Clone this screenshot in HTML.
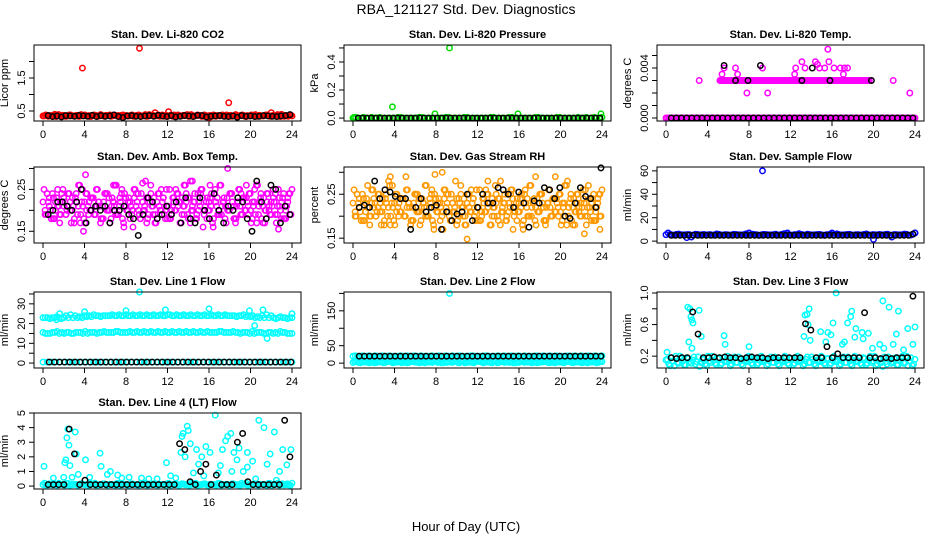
<!DOCTYPE html>
<html><head><meta charset="utf-8">
<style>
html,body{margin:0;padding:0;background:#fff;}
svg{display:block;font-family:"Liberation Sans",sans-serif;}
</style></head>
<body>
<svg id="chart" width="936" height="540" viewBox="0 0 936 540" xmlns="http://www.w3.org/2000/svg">
<text x="466" y="14" font-size="14" text-anchor="middle">RBA_121127  Std. Dev. Diagnostics</text>
<text x="466" y="531" font-size="13" text-anchor="middle">Hour of Day (UTC)</text>
</svg>
<script>
// ---------- data ----------
const hourTicks = [0,4,8,12,16,20,24];
const co2Red = [0.35,0.38,0.34,0.36,0.37,0.33,0.39,0.35,0.36,0.34,0.38,0.36,0.35,0.37,0.34,0.36,0.38,0.35,0.33,0.37,0.36,0.34,0.39,0.35,0.37,0.36,0.34,0.38,0.35,0.36,0.37,0.34,0.36,0.35,0.38,0.34,0.37,0.36,0.35,0.39,0.34,0.36,0.37,0.35,0.38,0.36,0.34,0.37,0.35,0.36,0.38,0.34,0.36,0.35,0.37,0.39,0.34,0.36,0.35,0.38,0.36,0.34,0.37,0.35,0.36,0.38,0.34,0.36,0.37,0.35,0.38,0.36,0.34,0.37,0.35,0.36,0.38,0.34,0.36,0.35,0.37,0.39,0.34,0.36,0.35,0.38,0.36,0.34,0.37,0.35,0.36,0.40,0.34,0.36,0.37,0.35];
const co2Black = [0.36,0.33,0.35,0.32,0.36,0.35,0.34,0.36,0.35,0.34,0.37,0.33,0.36,0.34,0.35,0.38,0.33,0.30,0.35,0.36,0.34,0.33,0.35,0.36,0.34,0.37,0.35,0.33,0.36,0.32,0.34,0.36,0.35,0.33,0.37,0.36,0.32,0.34,0.35,0.36,0.34,0.33,0.35,0.31,0.36,0.34,0.35,0.33,0.34,0.36,0.35,0.34,0.33,0.35,0.36,0.39];
const co2Out = [[3.8,1.8],[9.3,2.4],[17.9,0.75],[10.8,0.45],[12.1,0.48],[22,0.45],[16,0.3]];
const presGreen = [0,0,0.005,0,0,0.005,0,0,0,0.005,0,0,0,0.005,0,0,0,0,0.005,0,0,0.005,0,0,0,0,0.005,0,0,0,0.005,0,0,0,0,0.005,0,0,0,0.005,0,0,0,0,0.005,0,0,0.005];
const presBlack = [0,0,0,0,0,0,0,0,0,0,0,0,0,0,0,0,0,0,0,0,0,0,0,0,0,0,0,0,0,0,0,0,0,0,0,0,0,0,0,0,0,0,0,0,0,0,0,0,0,0,0,0,0,0,0,0];
const presOut = [[0.1,0.005],[3.8,0.08],[9.3,0.5],[7.9,0.03],[15.9,0.03],[23.9,0.03]];
const tempZeroMag = [0,0,0,0,0,0,0,0,0,0,0,0,0,0,0,0,0,0,0,0,0,0,0,0,0,0,0,0,0,0,0,0,0,0,0,0,0,0,0,0,0,0,0,0,0,0,0,0,0,0,0,0,0,0,0,0,0,0,0,0,0,0,0,0,0,0,0,0,0,0,0,0,0,0,0,0,0,0,0,0];
const tempBandMag = [0.003,0.003,0.003,0.003,0.003,0.003,0.003,0.003,0.003,0.003,0.003,0.003,0.003,0.003,0.003,0.003,0.003,0.003,0.003,0.003,0.003,0.003,0.003,0.003,0.003,0.003,0.003,0.003,0.003,0.003,0.003,0.003,0.003,0.003,0.003,0.003,0.003,0.003,0.003,0.003,0.003,0.003,0.003,0.003,0.003,0.003,0.003,0.003,0.003,0.003,0.003,0.003,0.003,0.003,0.003,0.003,0.003,0.003,0.003,0.003];
const tempMagOut = [[3.2,0.003],[5.4,0.0035],[5.6,0.004],[6.7,0.004],[6.9,0.0035],[7.8,0.002],[9.8,0.002],[9.3,0.004],[12.4,0.0035],[12.5,0.004],[13.1,0.0045],[13.4,0.004],[14.4,0.0045],[14.6,0.0043],[14.8,0.004],[15.6,0.0055],[15.7,0.0045],[16.2,0.004],[16.8,0.004],[17.2,0.004],[17.5,0.004],[17.1,0.0035],[21.9,0.003],[23.5,0.002],[16,0.003],[15.3,0.004]];
const tempBlackZero = [0,0,0,0,0,0,0,0,0,0,0,0,0,0,0,0,0,0,0,0,0,0,0,0,0,0,0,0,0,0,0,0,0,0,0,0,0,0,0,0,0,0,0,0,0,0,0,0];
const tempBlackOut = [[5.6,0.0042],[6.7,0.003],[7.9,0.003],[9.1,0.0042],[13.1,0.003],[14.1,0.004],[15.8,0.003],[19.8,0.003]];
const ambMag = [0.22,0.19,0.24,0.21,0.18,0.23,0.20,0.25,0.17,0.22,0.21,0.19,0.24,0.20,0.23,0.18,0.22,0.26,0.19,0.21,0.17,0.24,0.22,0.20,0.23,0.19,0.25,0.21,0.18,0.22,0.24,0.20,0.17,0.23,0.21,0.26,0.19,0.22,0.18,0.24,0.20,0.23,0.21,0.16,0.25,0.22,0.19,0.24,0.20,0.27,0.18,0.22,0.21,0.23,0.17,0.24,0.20,0.22,0.19,0.25,0.21,0.18,0.23,0.20,0.24,0.22,0.17,0.21,0.26,0.19,0.23,0.20,0.22,0.18,0.24,0.21,0.25,0.19,0.22,0.20,0.23,0.17,0.24,0.21,0.19,0.26,0.22,0.18,0.23,0.20,0.24,0.21,0.17,0.22,0.25,0.19,0.23,0.20,0.21,0.24,0.18,0.22,0.26,0.19,0.23,0.21,0.17,0.24,0.20,0.22,0.25,0.19,0.21,0.23,0.18,0.24,0.20,0.22,0.19,0.25];
const ambMag2 = [0.20,0.23,0.18,0.21,0.24,0.19,0.22,0.17,0.21,0.25,0.20,0.23,0.19,0.22,0.18,0.24,0.21,0.19,0.23,0.16,0.22,0.20,0.24,0.18,0.21,0.23,0.19,0.22,0.25,0.20,0.18,0.23,0.21,0.19,0.24,0.17,0.22,0.20,0.23,0.18,0.21,0.25,0.19,0.22,0.20,0.24,0.18,0.21,0.23,0.19,0.22,0.17,0.24,0.20,0.21,0.23,0.19,0.22,0.18,0.24];
const ambOut = [[4.1,0.285],[17.8,0.30],[9.6,0.265],[6.8,0.26],[13.6,0.26],[14.4,0.27],[16.1,0.26],[19.6,0.26],[19.1,0.24],[3.9,0.15],[22.7,0.155]];
const ambBlack = [0.19,0.20,0.22,0.22,0.21,0.20,0.22,0.25,0.17,0.20,0.21,0.20,0.21,0.17,0.20,0.20,0.21,0.19,0.18,0.14,0.19,0.23,0.22,0.18,0.19,0.21,0.19,0.22,0.17,0.23,0.18,0.17,0.23,0.20,0.18,0.24,0.20,0.17,0.21,0.20,0.23,0.22,0.18,0.15,0.27,0.22,0.18,0.26,0.25,0.17,0.21,0.19];
const rhOr = [0.23,0.20,0.25,0.22,0.19,0.24,0.21,0.27,0.18,0.23,0.22,0.20,0.25,0.21,0.24,0.19,0.23,0.28,0.20,0.22,0.18,0.25,0.23,0.21,0.24,0.20,0.26,0.22,0.19,0.23,0.25,0.21,0.18,0.24,0.22,0.27,0.20,0.23,0.19,0.25,0.21,0.24,0.22,0.17,0.26,0.23,0.20,0.25,0.21,0.28,0.19,0.23,0.22,0.24,0.18,0.25,0.21,0.23,0.20,0.26,0.22,0.19,0.24,0.21,0.25,0.23,0.18,0.22,0.27,0.20,0.24,0.21,0.23,0.19,0.25,0.22,0.26,0.20,0.23,0.21,0.24,0.18,0.25,0.22,0.20,0.27,0.23,0.19,0.24,0.21,0.25,0.22,0.18,0.23,0.26,0.20,0.24,0.21,0.22,0.25,0.19,0.23,0.27,0.20,0.24,0.22,0.18,0.25,0.21,0.23,0.26,0.20,0.22,0.24,0.19,0.25,0.21,0.23,0.20,0.26];
const rhOr2 = [0.21,0.24,0.19,0.22,0.26,0.20,0.23,0.18,0.22,0.27,0.21,0.24,0.20,0.23,0.19,0.25,0.22,0.20,0.24,0.17,0.23,0.21,0.25,0.19,0.22,0.24,0.20,0.23,0.26,0.21,0.19,0.24,0.22,0.20,0.25,0.18,0.23,0.21,0.24,0.19,0.22,0.26,0.20,0.23,0.21,0.25,0.19,0.22,0.24,0.20,0.23,0.18,0.25,0.21,0.22,0.24,0.20,0.23,0.19,0.25];
const rhOut = [[7.9,0.295],[8.6,0.3],[11,0.148],[5.1,0.29],[3.6,0.29],[17.6,0.29],[22.3,0.16],[19.5,0.29],[13,0.28],[23.8,0.17]];
const rhBlack = [0.22,0.225,0.22,0.28,0.24,0.26,0.255,0.245,0.24,0.24,0.17,0.22,0.24,0.21,0.22,0.225,0.17,0.21,0.19,0.205,0.21,0.25,0.19,0.22,0.25,0.23,0.23,0.265,0.26,0.25,0.22,0.255,0.23,0.175,0.235,0.23,0.265,0.26,0.24,0.265,0.2,0.195,0.23,0.265,0.245,0.24,0.22,0.31];
const sfBlue = [5.5,5.8,5.2,6.0,5.4,5.6,3.5,5.9,5.3,5.7,5.5,5.1,6.1,5.4,5.6,5.2,5.8,5.5,5.3,6.2,5.4,5.6,5.0,5.7,5.5,5.3,5.9,5.4,6.3,5.6,5.2,5.5,5.8,5.1,5.6,5.4,5.7,5.3,5.5,5.9,5.2,5.6,5.4,5.7,5.3,5.5,5.1,5.8,5.4,5.6,5.2,5.5,5.7,5.3,5.6,5.4,5.5,5.8,5.2,7.0];
const sfBlack = [5,5,5,5,5,5,5,5,5,5,5,5,5,5,5,5,5,5,5,5,5,5,5,5,5,5,5,5,5,5,5,5,5,5,5,5,5,5,5,5,5,5,5,5,5,5,5,5,5,5,5,5,5,5,5,6];
const sfOut = [[9.3,60],[20,1.5],[2,3],[8,7],[11.7,7],[16,7],[24,7]];
const l1High = [23,23,23,23.5,22.5,24,24.5,24,23.5,24,24,24.5,24,24,24,24.5,24,24,24.5,24,24,24.5,24,24,24.5,24,24,24.5,24,24.5,24,24,24.5,24,24,24.5,24,24,24.5,24,24,24,23.5,24,23.5,23.5,23,23,23,23,23,23,23,22.5,23];
const l1Mid = [15.5,15,15.5,16,15.5,15.5,15,15.5,15.5,16,15.5,15.5,15.5,16,15.5,15.5,16,15.5,15.5,15.5,16,15.5,15.5,16,15.5,15.5,16,15.5,15.5,16,15.5,15.5,16,15.5,15.5,16,15.5,15.5,16,15.5,15.5,15.5,15,15.5,15,15,15.5,15,15.5,15,15,15.5,15,15];
const l1Low = [0.5,0.5,0.5,0.5,0.5,0.5,0.5,0.5,0.5,0.5,0.5,0.5,0.5,0.5,0.5,0.5,0.5,0.5,0.5,0.5,0.5,0.5,0.5,0.5,0.5,0.5,0.5,0.5,0.5,0.5,0.5,0.5,0.5,0.5,0.5,0.5,0.5,0.5,0.5,0.5,0.5,0.5,0.5,0.5,0.5,0.5,0.5,0.5,0.5,0.5,0.5,0.5,0.5,0.5,0.5,0.5,0.5,0.5,0.5,0.5];
const l1Out = [[9.3,36],[4,26],[8,26.5],[11.8,27],[16,27.5],[19.9,26.5],[21.2,27],[20.4,19],[21.6,12.5],[24,25],[1.6,25],[1.3,22]];
const l1Black = [0.5,0.5,0.5,0.5,0.5,0.5,0.5,0.5,0.5,0.5,0.5,0.5,0.5,0.5,0.5,0.5,0.5,0.5,0.5,0.5,0.5,0.5,0.5,0.5,0.5,0.5,0.5,0.5,0.5,0.5,0.5,0.5,0.5,0.5,0.5,0.5,0.5,0.5,0.5,0.5,0.5,0.5,0.5,0.5,0.5,0.5,0.5,0.5];
const l2Mid = [20,20,21,20,20,21,20,20,21,20,20,20,21,20,20,21,20,20,20,21,20,20,21,20,20,20,21,20,20,21,20,20,21,20,20,21,20,20,21,20,20,20,21,20,20,21,20,20,20,21,20,20,21,20,20,21];
const l2Low = [2,4,1,3,5,2,1,4,3,2,5,1,3,4,2,1,5,3,2,4,1,3,2,5,4,1,2,3,5,2,4,1,3,2,4,5,1,3,2,4,1,5,2,3,4,1,2,5,3,4,2,1,3,5,2,4,1,3,2,4,5,1,3,2,4,1,3,5,2,4];
const l2Out = [[9.3,200]];
const l2Black = [20,20,20,20,20,20,20,20,20,20,20,20,20,20,20,20,20,20,20,20,20,20,20,20,20,20,20,20,20,20,20,20,20,20,20,20,20,20,20,20,20,20,20,20,20,20,20,20];
const l3Low = [0.15,0.1,0.18,0.08,0.12,0.2,0.14,0.09,0.17,0.11,0.19,0.13,0.07,0.16,0.1,0.2,0.12,0.15,0.09,0.18,0.11,0.14,0.2,0.08,0.16,0.12,0.19,0.1,0.15,0.13,0.18,0.09,0.17,0.11,0.2,0.14,0.08,0.16,0.12,0.19,0.1,0.15,0.13,0.18,0.09,0.17,0.11,0.2,0.14,0.08,0.16,0.12,0.19,0.1,0.15,0.13,0.18,0.09,0.17,0.11,0.2,0.14,0.08,0.16,0.12,0.19,0.1,0.15,0.13,0.18,0.09,0.17,0.11,0.2,0.14,0.08,0.16,0.12,0.19,0.1,0.15,0.13,0.18,0.09,0.17,0.11,0.2,0.14,0.08,0.16];
const l3Out = [[0.1,0.25],[2.1,0.82],[2.3,0.8],[2.4,0.7],[2.5,0.66],[2.6,0.62],[2.2,0.38],[2.5,0.3],[3.2,0.78],[3.4,0.45],[5.6,0.46],[5.7,0.35],[8,0.32],[13.3,0.45],[13.4,0.72],[13.6,0.73],[13.8,0.8],[13.7,0.6],[13.9,0.4],[14.9,0.51],[15.6,0.5],[15.9,0.47],[15.4,0.38],[16.1,0.62],[16.4,1.0],[17.2,0.38],[17.5,0.62],[17.8,0.7],[17.9,0.77],[18.3,0.55],[18.9,0.5],[18.2,0.44],[19.0,0.42],[19.5,0.49],[20.6,0.35],[20.9,0.9],[21.5,0.82],[21.9,0.35],[22.2,0.48],[22.4,0.77],[23.3,0.55],[23.8,0.35],[24,0.57],[17,0.35],[19.9,0.3],[21,0.3],[22.9,0.28]];
const l3Black = [0.18,0.17,0.18,0.18,0.76,0.48,0.18,0.18,0.19,0.18,0.19,0.18,0.18,0.17,0.18,0.19,0.18,0.18,0.17,0.18,0.18,0.18,0.18,0.18,0.18,0.61,0.53,0.18,0.18,0.32,0.18,0.23,0.18,0.18,0.18,0.18,0.75,0.18,0.18,0.17,0.18,0.17,0.18,0.18,0.18,0.96];
const l4Low = [0.1,0.05,0.15,0.08,0.12,0.2,0.1,0.05,0.18,0.1,0.12,0.06,0.15,0.1,0.08,0.2,0.12,0.05,0.1,0.15,0.08,0.12,0.1,0.05,0.18,0.1,0.12,0.06,0.15,0.1,0.08,0.2,0.12,0.05,0.1,0.15,0.08,0.12,0.1,0.05,0.18,0.1,0.12,0.06,0.15,0.1,0.08,0.2,0.12,0.05,0.1,0.15,0.08,0.12,0.1,0.05,0.18,0.1,0.12,0.06,0.15,0.1,0.08,0.2,0.12,0.05,0.1,0.15,0.08,0.12,0.1,0.05,0.18,0.1,0.12,0.06,0.15,0.1,0.08,0.2];
const l4Out = [[0.1,1.35],[1,0.55],[2,0.6],[2.1,1.6],[2.2,1.8],[2.3,3.3],[2.4,3.9],[2.5,2.8],[2.6,1.4],[2.8,0.6],[3.1,3.7],[3.2,2.2],[3.4,0.8],[4.1,1.8],[4.5,0.6],[5.5,2.25],[5.6,1.35],[6.2,0.8],[6.5,1.0],[7.2,0.75],[7.6,0.55],[8.3,0.6],[9.5,0.55],[10.2,0.5],[11,0.5],[11.9,1.6],[12.3,0.7],[12.8,0.55],[13.3,2.3],[13.4,3.4],[13.5,3.6],[13.7,2.0],[13.9,4.1],[14.0,3.8],[14.2,2.9],[14.8,2.5],[15.0,1.5],[15.3,2.0],[15.7,2.7],[16.1,2.3],[16.6,4.85],[17.1,1.4],[17.3,2.5],[17.6,3.1],[17.8,3.4],[18.4,2.3],[18.1,3.6],[18.7,1.8],[18.9,2.6],[19.3,1.0],[19.7,2.3],[19.7,1.3],[20.2,1.7],[20.8,4.5],[21.3,4.0],[21.6,1.5],[21.9,2.2],[22.3,3.7],[22.8,1.0],[23.1,2.5],[23.5,1.45],[23.9,2.5],[15.5,0.7],[20.5,0.5],[22.5,0.4],[14.5,0.9],[16.9,0.9],[18.2,1.0]];
const l4Black = [0.1,0.1,0.1,0.1,3.9,2.2,0.1,0.4,0.1,0.1,0.1,0.1,0.1,0.1,0.1,0.1,0.1,0.1,0.1,0.1,0.1,0.1,0.1,0.1,0.1,2.9,2.5,0.3,0.1,1.0,1.5,0.1,0.75,0.1,0.1,0.1,3.0,3.6,0.3,0.1,0.1,0.1,0.1,0.1,0.1,4.5,2.0];

// ---------- layout ----------
const svg = document.getElementById('chart');
const NS = 'http://www.w3.org/2000/svg';
const colL = [34,344,657], rowT = [45,167,292,413], W = 267, H = 76;
function mk(tag, attrs, parent){ const e = document.createElementNS(NS, tag); for (const k in attrs) e.setAttribute(k, attrs[k]); (parent||svg).appendChild(e); return e; }

function panel(col,row,name,title,ylab,ymin,ymax,yticks,ylabels){
  const L = colL[col], T = rowT[row];
  const p = {L,T,ymin,ymax,name};
  p.x = h => L + 9 + h*(W-18)/24;
  p.y = v => T + H - (v-ymin)/(ymax-ymin)*H;
  const g = mk('g',{});
  
  
  p.g = g;
  const t = mk('text',{x:L+W/2,y:T-7,'font-size':11,'font-weight':'bold','text-anchor':'middle'},g);
  t.textContent = title;
  
  
  const yl = mk('text',{transform:`translate(${L-26},${T+H/2}) rotate(-90)`,'font-size':11,'text-anchor':'middle'},g);
  yl.textContent = ylab;
  
  
  hourTicks.forEach(h=>{
    const xx = p.x(h);
    mk('line',{x1:xx,x2:xx,y1:T+H,y2:T+H+5,stroke:'#000'},g);
    const tl = mk('text',{x:xx,y:T+H+17,'font-size':11,'text-anchor':'middle'},g);
    tl.textContent = String(h);
    
    
  });
  yticks.forEach((v,i)=>{
    const yy = p.y(v);
    mk('line',{x1:L-5,x2:L,y1:yy,y2:yy,stroke:'#000'},g);
    if (ylabels[i]) {
      const tl = mk('text',{transform:`translate(${L-9},${yy}) rotate(-90)`,'font-size':11,'text-anchor':'middle'},g);
      tl.textContent = ylabels[i];
      
      
    }
  });
  p.pts = mk('g',{},g);
  
  
  mk('rect',{x:L,y:T,width:W,height:H,fill:'none',stroke:'#000','stroke-width':1},g);
  return p;
}
function pt(p,h,v,color){
  const c = mk('circle',{cx:p.x(h),cy:p.y(v),r:2.7,fill:'none',stroke:color,'stroke-width':1.5},p.pts);
  
  
}
function series(p,vals,color,h0,h1){ const n=vals.length; vals.forEach((v,i)=>pt(p,h0+(h1-h0)*i/(n-1),v,color)); }
// dense clouds: draw series forward and a second pass reversed, offset half a step
function dense(p,vals,color,h0,h1){
  series(p,vals,color,h0,h1);
  const n=vals.length, st=(h1-h0)/(n-1);
  const rev = vals.slice().reverse();
  rev.forEach((v,i)=>{ const h=h0+st/2+st*i; if (h<=h1) pt(p,h,v,color); });
}
function pairs(p,arr,color){ arr.forEach(d=>pt(p,d[0],d[1],color)); }

const RED='#ff0000', GRN='#00dd00', MAG='#ff00ff', ORG='#ff9900', BLU='#0000ff', CYN='#00ffff', BLK='#000000';

let p = panel(0,0,'co2','Stan. Dev. Li-820 CO2','Licor ppm',0.197,2.5,[0.5,1,1.5,2],['0.5','','1.5','']);
dense(p,co2Red,RED,0,24); pairs(p,co2Out,RED); series(p,co2Black,BLK,0.5,23.8);

p = panel(1,0,'pressure','Stan. Dev. Li-820 Pressure','kPa',-0.021,0.521,[0,0.1,0.2,0.3,0.4,0.5],['0.0','','0.2','','0.4','']);
dense(p,presGreen,GRN,0,24); pairs(p,presOut,GRN); series(p,presBlack,BLK,0.5,23.8);

p = panel(2,0,'li820-temp','Stan. Dev. Li-820 Temp.','degrees C',-0.00024,0.00584,[0,0.001,0.002,0.003,0.004,0.005],['0.000','','','','0.004','']);
dense(p,tempZeroMag,MAG,0,24); dense(p,tempBandMag,MAG,5.2,19.6); pairs(p,tempMagOut,MAG);
series(p,tempBlackZero,BLK,0.5,23.8); pairs(p,tempBlackOut,BLK);

p = panel(0,1,'amb-box-temp','Stan. Dev. Amb. Box Temp.','degrees C',0.122,0.3035,[0.15,0.2,0.25,0.3],['0.15','','0.25','']);
dense(p,ambMag,MAG,0,24); dense(p,ambMag2,MAG,0.2,23.8); pairs(p,ambOut,MAG); series(p,ambBlack,BLK,0.5,23.8);

p = panel(1,1,'gas-stream-rh','Stan. Dev. Gas Stream RH','percent',0.139,0.312,[0.15,0.2,0.25,0.3],['0.15','','0.25','']);
dense(p,rhOr,ORG,0,24); dense(p,rhOr2,ORG,0.2,23.8); pairs(p,rhOut,ORG); series(p,rhBlack,BLK,0.6,23.9);

p = panel(2,1,'sample-flow','Stan. Dev. Sample Flow','ml/min',-1.6,63.3,[0,10,20,30,40,50,60],['0','','20','','40','','60']);
dense(p,sfBlue,BLU,0,24); pairs(p,sfOut,BLU); series(p,sfBlack,BLK,0.5,23.8);

p = panel(0,2,'line1-flow','Stan. Dev. Line 1 Flow','ml/min',-2.5,36,[0,5,10,15,20,25,30,35],['0','','10','','20','','30','']);
dense(p,l1High,CYN,0,24); dense(p,l1Mid,CYN,0,24); series(p,l1Low,CYN,0,24); pairs(p,l1Out,CYN); series(p,l1Black,BLK,0.6,23.9);

p = panel(1,2,'line2-flow','Stan. Dev. Line 2 Flow','ml/min',-14,204,[0,50,100,150,200],['0','50','','150','']);
dense(p,l2Low,CYN,0,24); dense(p,l2Mid,CYN,0,24); pairs(p,l2Out,CYN); series(p,l2Black,BLK,0.6,23.9);

p = panel(2,2,'line3-flow','Stan. Dev. Line 3 Flow','ml/min',0.05,1.0125,[0.2,0.4,0.6,0.8,1.0],['0.2','','0.6','','1.0']);
dense(p,l3Low,CYN,0,24); pairs(p,l3Out,CYN); series(p,l3Black,BLK,0.5,23.8);

p = panel(0,3,'line4-flow','Stan. Dev. Line 4 (LT) Flow','ml/min',-0.2,5,[0,1,2,3,4,5],['0','1','2','3','4','5']);
dense(p,l4Low,CYN,0,24); pairs(p,l4Out,CYN); series(p,l4Black,BLK,0.5,23.8);
</script>
</body></html>
